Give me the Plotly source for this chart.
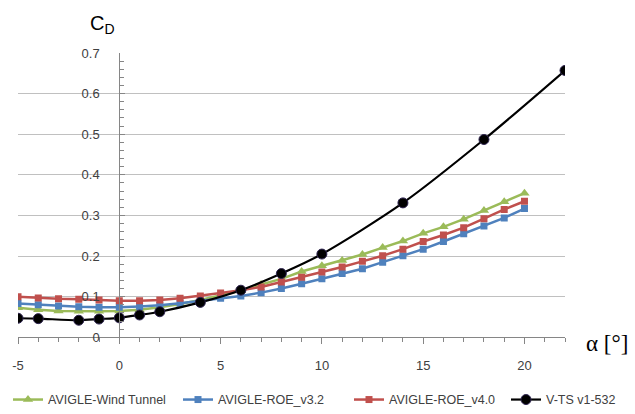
import plotly.graph_objects as go

alpha = list(range(-5, 21))
cd_wind_tunnel = [0.073, 0.068, 0.065, 0.064, 0.064, 0.065, 0.068, 0.074, 0.082, 0.092,
                  0.103, 0.115, 0.130, 0.144, 0.162, 0.176, 0.189, 0.204, 0.221, 0.237,
                  0.256, 0.272, 0.291, 0.312, 0.334, 0.355]
cd_roe_v32 = [0.083, 0.080, 0.077, 0.075, 0.074, 0.074, 0.076, 0.079, 0.084, 0.090,
              0.096, 0.102, 0.110, 0.120, 0.132, 0.144, 0.157, 0.169, 0.185, 0.201,
              0.217, 0.236, 0.255, 0.274, 0.294, 0.317]
cd_roe_v40 = [0.100, 0.097, 0.095, 0.094, 0.092, 0.090, 0.090, 0.092, 0.096, 0.102,
              0.109, 0.116, 0.124, 0.136, 0.148, 0.161, 0.173, 0.187, 0.201, 0.217,
              0.236, 0.252, 0.270, 0.292, 0.315, 0.335]
alpha_vts = [-5, -4, -2, -1, 0, 1, 2, 4, 6, 8, 10, 14, 18, 22]
cd_vts = [0.047, 0.046, 0.042, 0.045, 0.048, 0.055, 0.063, 0.086, 0.116, 0.157,
          0.205, 0.331, 0.487, 0.657]

x_tick_vals = [-5, 0, 5, 10, 15, 20]
x_tick_text = ["-5", "0", "5", "10", "15", "20"]
y_tick_vals = [0, 0.1, 0.2, 0.3, 0.4, 0.5, 0.6, 0.7]
y_tick_text = ["0", "0.1", "0.2", "0.3", "0.4", "0.5", "0.6", "0.7"]

GREEN = "#9BBB59"
BLUE = "#4F81BD"
RED = "#C0504D"
TXT = "#404040"
AX = "#868686"

fig = go.Figure()
fig.add_trace(go.Scatter(x=alpha, y=cd_wind_tunnel, mode="lines+markers", name="AVIGLE-Wind Tunnel",
                         line=dict(color=GREEN, width=2.5), legend="legend",
                         marker=dict(symbol="triangle-up", size=9, color=GREEN)))
fig.add_trace(go.Scatter(x=alpha, y=cd_roe_v32, mode="lines+markers", name="AVIGLE-ROE_v3.2",
                         line=dict(color=BLUE, width=2.5), legend="legend",
                         marker=dict(symbol="square", size=7, color=BLUE)))
fig.add_trace(go.Scatter(x=alpha, y=cd_roe_v40, mode="lines+markers", name="AVIGLE-ROE_v4.0",
                         line=dict(color=RED, width=2.5), legend="legend2",
                         marker=dict(symbol="square", size=7, color=RED)))
fig.add_trace(go.Scatter(x=alpha_vts, y=cd_vts, mode="lines+markers", name="V-TS v1-532",
                         line=dict(color="black", width=2.2, shape="spline", smoothing=0.8),
                         legend="legend2",
                         marker=dict(symbol="circle", size=10, color="black",
                                     line=dict(color="#2E2450", width=1))))

leg_common = dict(orientation="h", xref="container", yref="container",
                  xanchor="left", y=0.034, yanchor="middle",
                  font=dict(size=12.5, color=TXT), itemwidth=30,
                  bgcolor="rgba(0,0,0,0)", entrywidthmode="pixels")

fig.update_layout(
    width=635, height=414,
    margin=dict(l=12, r=70, t=53, b=73),
    paper_bgcolor="white", plot_bgcolor="white",
    font=dict(family="Liberation Sans, Arial, sans-serif", size=13, color=TXT),
    showlegend=True,
    legend=dict(leg_common, x=8 / 635, entrywidth=125),
    legend2=dict(leg_common, x=349 / 635, entrywidth=112),
    xaxis=dict(range=[-5, 22], tickvals=x_tick_vals, ticktext=x_tick_text,
               showgrid=False, zeroline=False, showline=True, linecolor=AX, linewidth=1,
               ticks="outside", ticklen=6, tickcolor=AX, ticklabelstandoff=10,
               minor=dict(dtick=1, ticks="outside", ticklen=4, tickcolor=AX),
               tickfont=dict(size=13, color=TXT), anchor="y", fixedrange=True),
    yaxis=dict(range=[0, 0.7], tickvals=y_tick_vals, ticktext=y_tick_text,
               showgrid=True, gridcolor="#C0C0C0", gridwidth=1, zeroline=False,
               showline=True, linecolor=AX, linewidth=1,
               ticks="inside", ticklen=5, tickcolor=AX, ticklabelstandoff=17,
               minor=dict(dtick=0.02, ticks="inside", ticklen=4, tickcolor=AX, showgrid=False),
               tickfont=dict(size=13, color=TXT),
               anchor="free", position=5 / 27, fixedrange=True),
    annotations=[
        dict(text="C<sub>D</sub>", xref="x", x=0, xanchor="right", xshift=-2,
             yref="paper", y=1, yanchor="bottom", yshift=14, showarrow=False,
             font=dict(size=20, color="black", family="Liberation Sans, Arial, sans-serif")),
        dict(text="\u03b1 [\u00b0]", xref="paper", x=1, xanchor="left", xshift=19,
             yref="y", y=0, yanchor="middle", yshift=-6, showarrow=False,
             font=dict(size=23, color="black", family="Liberation Serif, Times New Roman, serif")),
    ],
)

fig.write_html("out.html")
